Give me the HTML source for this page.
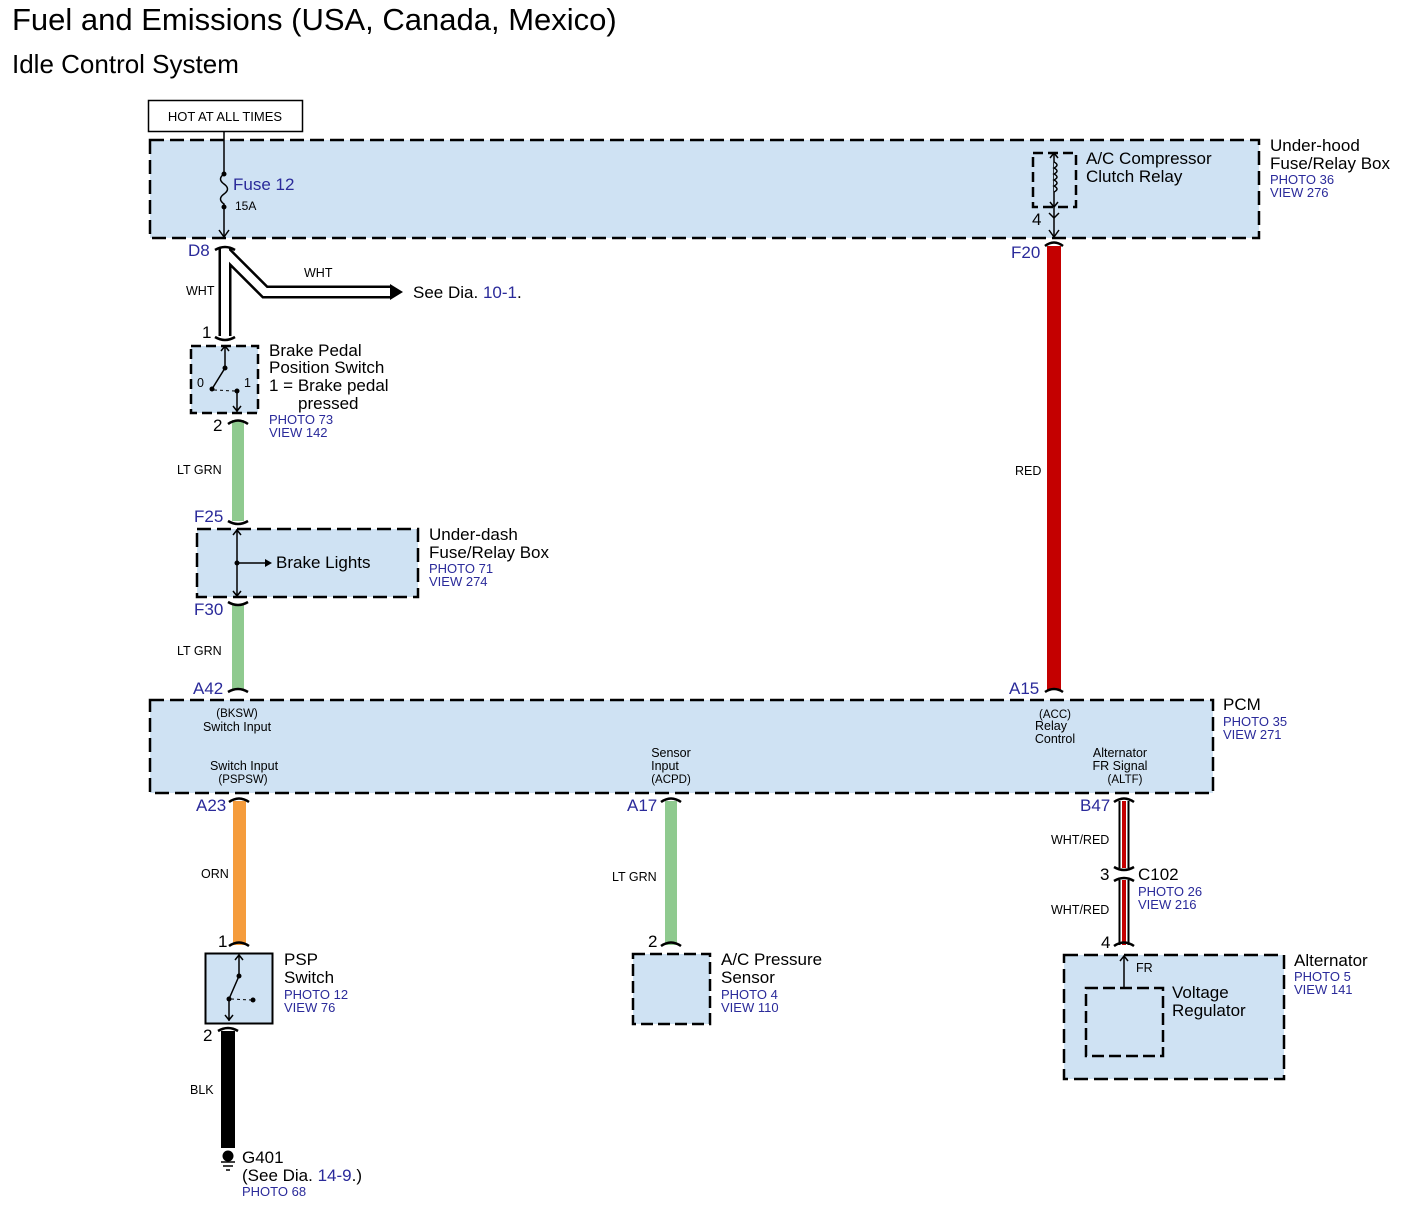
<!DOCTYPE html>
<html><head><meta charset="utf-8"><style>
html,body{margin:0;padding:0;background:#fff;}
svg{display:block;font-family:"Liberation Sans",Arial,sans-serif;}
.b{fill:#cfe2f3;stroke:#000;stroke-width:2.5;stroke-dasharray:14 6;}
.bl{fill:#2a2a9a;}
.s{font-size:12.5px;}
.m{font-size:17px;}
.p{font-size:13px;fill:#2a2a9a;}
</style></head><body>
<svg width="1406" height="1207" viewBox="0 0 1406 1207" xmlns="http://www.w3.org/2000/svg">
<text x="12" y="30" font-size="31">Fuel and Emissions (USA, Canada, Mexico)</text>
<text x="12" y="73" font-size="26">Idle Control System</text>

<rect x="148.5" y="100.5" width="154" height="31" fill="#fff" stroke="#000" stroke-width="1.5"/>
<text x="225" y="121" text-anchor="middle" font-size="13">HOT AT ALL TIMES</text>

<!-- Under-hood box -->
<rect class="b" x="150" y="140" width="1109" height="98"/>
<line x1="224" y1="131" x2="224" y2="174" stroke="#000" stroke-width="1.5"/>
<line x1="224" y1="207" x2="224" y2="236" stroke="#000" stroke-width="1.5"/>
<path d="M224 174 q-7 5 0 10 q7 5 0 10 q-7 5 0 10 L224 207" fill="none" stroke="#000" stroke-width="1.5"/>
<circle cx="224" cy="174" r="2.5"/><circle cx="224" cy="207" r="2.5"/>
<path d="M219 230 l5 7 l5 -7" fill="none" stroke="#000" stroke-width="1.5"/>
<text x="233" y="190" class="m bl">Fuse 12</text>
<text x="235" y="210" font-size="12">15A</text>
<rect x="1033" y="153" width="43" height="54" fill="none" stroke="#000" stroke-width="2.5" stroke-dasharray="10 5"/>
<line x1="1054" y1="153" x2="1054" y2="236" stroke="#000" stroke-width="1.5"/>
<path d="M1054 162 q6 3 0 6 q6 3 0 6 q6 3 0 6 q6 3 0 6 q6 3 0 6" fill="#cfe2f3" stroke="#000" stroke-width="1.5"/>
<path d="M1050 158 l4 -5 l4 5 M1050 202 l4 5 l4 -5 M1049 213 l5 5 l5 -5 M1049 230 l5 7 l5 -7" fill="none" stroke="#000" stroke-width="1.5"/>
<text x="1086" y="164" class="m">A/C Compressor</text>
<text x="1086" y="182" class="m">Clutch Relay</text>
<text x="1032" y="225" class="m">4</text>
<text x="1270" y="151" class="m">Under-hood</text>
<text x="1270" y="169" class="m">Fuse/Relay Box</text>
<text x="1270" y="184" class="p">PHOTO 36</text>
<text x="1270" y="197" class="p">VIEW 276</text>

<!-- WHT wire -->
<path d="M225 248 L225 336 M225 252 L265 292 L392 292" fill="none" stroke="#000" stroke-width="13"/>
<path d="M225 248 L225 336 M225 252 L265 292 L392 292" fill="none" stroke="#fff" stroke-width="8"/>
<polygon points="390,284 403,292 390,300"/>
<path d="M215 250 q10 -6 20 0 M215 337 q10 6 20 0" fill="none" stroke="#000" stroke-width="2.5"/>
<text x="188" y="256" class="m bl">D8</text>
<text x="186" y="295" class="s">WHT</text>
<text x="304" y="277" class="s">WHT</text>
<text x="413" y="298" class="m">See Dia. <tspan fill="#2a2a9a">10-1</tspan>.</text>
<text x="202" y="338" class="m">1</text>

<!-- Brake pedal switch -->
<rect class="b" x="191" y="346" width="67" height="67" style="stroke-dasharray:10 5"/>
<path d="M225 346 L225 368 L212 389 M221 351 l4 -5 l4 5" fill="none" stroke="#000" stroke-width="1.5"/>
<circle cx="225" cy="368" r="2.5"/><circle cx="212" cy="389" r="2.5"/><circle cx="237" cy="391" r="2.5"/>
<path d="M214 390 L235 391" stroke="#000" stroke-width="1" stroke-dasharray="3 3"/>
<path d="M237 391 L237 412 M233 406 l4 5 l4 -5" fill="none" stroke="#000" stroke-width="1.5"/>
<text x="197" y="387" class="s">0</text><text x="244" y="387" class="s">1</text>
<text x="269" y="356" class="m">Brake Pedal</text>
<text x="269" y="373" class="m">Position Switch</text>
<text x="269" y="391" class="m">1 = Brake pedal</text>
<text x="298" y="409" class="m">pressed</text>
<text x="269" y="424" class="p">PHOTO 73</text>
<text x="269" y="437" class="p">VIEW 142</text>

<!-- LT GRN -->
<rect x="232" y="420" width="12" height="101" fill="#8fca8f"/>
<path d="M228 424 q10 -7 20 0 M228 521 q10 6 20 0" fill="none" stroke="#000" stroke-width="2.5"/>
<text x="213" y="431" class="m">2</text>
<text x="177" y="474" class="s">LT GRN</text>
<text x="194" y="522" class="m bl">F25</text>

<rect class="b" x="197" y="529" width="221" height="68"/>
<path d="M237 529 L237 597 M233 535 l4 -5 l4 5 M233 591 l4 5 l4 -5 M237 563 L267 563" fill="none" stroke="#000" stroke-width="1.5"/>
<polygon points="265,559 272,563 265,567"/>
<circle cx="237" cy="563" r="2.5"/>
<text x="276" y="568" class="m">Brake Lights</text>
<text x="429" y="540" class="m">Under-dash</text>
<text x="429" y="558" class="m">Fuse/Relay Box</text>
<text x="429" y="573" class="p">PHOTO 71</text>
<text x="429" y="586" class="p">VIEW 274</text>

<rect x="232" y="604" width="12" height="86" fill="#8fca8f"/>
<path d="M228 602 q10 6 20 0 M228 692 q10 -6 20 0" fill="none" stroke="#000" stroke-width="2.5"/>
<text x="194" y="615" class="m bl">F30</text>
<text x="177" y="655" class="s">LT GRN</text>
<text x="193" y="694" class="m bl">A42</text>

<!-- RED -->
<rect x="1047" y="246" width="14" height="444" fill="#c40000"/>
<path d="M1045 246 q9 -7 18 0 M1045 692 q9 -6 18 0" fill="none" stroke="#000" stroke-width="2.5"/>
<text x="1011" y="258" class="m bl">F20</text>
<text x="1015" y="475" class="s">RED</text>
<text x="1009" y="694" class="m bl">A15</text>

<!-- PCM -->
<rect class="b" x="150" y="700" width="1063" height="93"/>
<g font-size="11.5" text-anchor="middle">
<text x="237" y="717">(BKSW)</text>
<text x="237" y="731" font-size="12.5">Switch Input</text>
<text x="244" y="770" font-size="12.5">Switch Input</text>
<text x="243" y="783">(PSPSW)</text>
<text x="1055" y="718">(ACC)</text>
<text x="1051" y="730" font-size="12.5">Relay</text>
<text x="1055" y="743" font-size="12.5">Control</text>
<text x="671" y="757" font-size="12.5">Sensor</text>
<text x="665" y="770" font-size="12.5">Input</text>
<text x="671" y="783">(ACPD)</text>
<text x="1120" y="757" font-size="12.5">Alternator</text>
<text x="1120" y="770" font-size="12.5">FR Signal</text>
<text x="1125" y="783">(ALTF)</text>
</g>
<text x="1223" y="710" class="m">PCM</text>
<text x="1223" y="726" class="p">PHOTO 35</text>
<text x="1223" y="739" class="p">VIEW 271</text>

<!-- ORN -->
<rect x="233" y="801" width="13" height="144" fill="#f59c3c"/>
<path d="M229 802 q10 -7 20 0 M229 946 q10 -7 20 0" fill="none" stroke="#000" stroke-width="2.5"/>
<text x="196" y="811" class="m bl">A23</text>
<text x="201" y="878" class="s">ORN</text>
<text x="218" y="947" class="m">1</text>

<rect x="205.5" y="953.5" width="67" height="70" fill="#cfe2f3" stroke="#000" stroke-width="2"/>
<path d="M239 954 L239 976 L229 999 L229 1021 M235 960 l4 -5 l4 5 M225 1015 l4 5 l4 -5" fill="none" stroke="#000" stroke-width="1.5"/>
<circle cx="239" cy="976" r="2.5"/><circle cx="229" cy="999" r="2.5"/><circle cx="253" cy="1000" r="2.5"/>
<path d="M231 999 L251 1000" stroke="#000" stroke-width="1" stroke-dasharray="3 3"/>
<text x="284" y="965" class="m">PSP</text>
<text x="284" y="983" class="m">Switch</text>
<text x="284" y="999" class="p">PHOTO 12</text>
<text x="284" y="1012" class="p">VIEW 76</text>

<rect x="221" y="1031" width="14" height="117" fill="#000"/>
<path d="M218 1031 q10 -6 20 0" fill="none" stroke="#000" stroke-width="2.5"/>
<text x="203" y="1041" class="m">2</text>
<text x="190" y="1094" class="s">BLK</text>
<circle cx="228" cy="1156" r="5.5"/>
<path d="M221 1162 h14 M223 1166 h10 M226 1170 h4" stroke="#000" stroke-width="1.5"/>
<text x="242" y="1163" class="m">G401</text>
<text x="242" y="1181" class="m">(See Dia. <tspan fill="#2a2a9a">14-9</tspan>.)</text>
<text x="242" y="1196" class="p">PHOTO 68</text>

<!-- LT GRN A17 -->
<rect x="665" y="801" width="12" height="144" fill="#8fca8f"/>
<path d="M661 802 q10 -7 20 0 M661 946 q10 -7 20 0" fill="none" stroke="#000" stroke-width="2.5"/>
<text x="627" y="811" class="m bl">A17</text>
<text x="612" y="881" class="s">LT GRN</text>
<text x="648" y="947" class="m">2</text>
<rect class="b" x="633" y="954" width="77" height="70" style="stroke-dasharray:12 5"/>
<text x="721" y="965" class="m">A/C Pressure</text>
<text x="721" y="983" class="m">Sensor</text>
<text x="721" y="999" class="p">PHOTO 4</text>
<text x="721" y="1012" class="p">VIEW 110</text>

<!-- WHT/RED -->
<g>
<path d="M1124 801 L1124 868 M1124 880 L1124 945" stroke="#000" stroke-width="11"/>
<path d="M1124 801 L1124 868 M1124 880 L1124 945" stroke="#fff" stroke-width="7"/>
<path d="M1124 801 L1124 868 M1124 880 L1124 945" stroke="#c40000" stroke-width="4"/>
<path d="M1114 802 q10 -7 20 0 M1114 867 q10 6 20 0 M1114 881 q10 -6 20 0 M1114 946 q10 -7 20 0" fill="none" stroke="#000" stroke-width="2.5"/>
</g>
<text x="1080" y="811" class="m bl">B47</text>
<text x="1051" y="844" class="s">WHT/RED</text>
<text x="1051" y="914" class="s">WHT/RED</text>
<text x="1100" y="880" class="m">3</text>
<text x="1138" y="880" class="m">C102</text>
<text x="1138" y="896" class="p">PHOTO 26</text>
<text x="1138" y="909" class="p">VIEW 216</text>
<text x="1101" y="948" class="m">4</text>

<rect class="b" x="1064" y="955" width="220" height="124"/>
<rect x="1086" y="988" width="77" height="68" fill="none" stroke="#000" stroke-width="2.5" stroke-dasharray="12 5"/>
<path d="M1124 988 L1124 956 M1120 961 l4 -5 l4 5" fill="none" stroke="#000" stroke-width="1.5"/>
<text x="1136" y="972" class="s">FR</text>
<text x="1172" y="998" class="m">Voltage</text>
<text x="1172" y="1016" class="m">Regulator</text>
<text x="1294" y="966" class="m">Alternator</text>
<text x="1294" y="981" class="p">PHOTO 5</text>
<text x="1294" y="994" class="p">VIEW 141</text>
</svg>
</body></html>
